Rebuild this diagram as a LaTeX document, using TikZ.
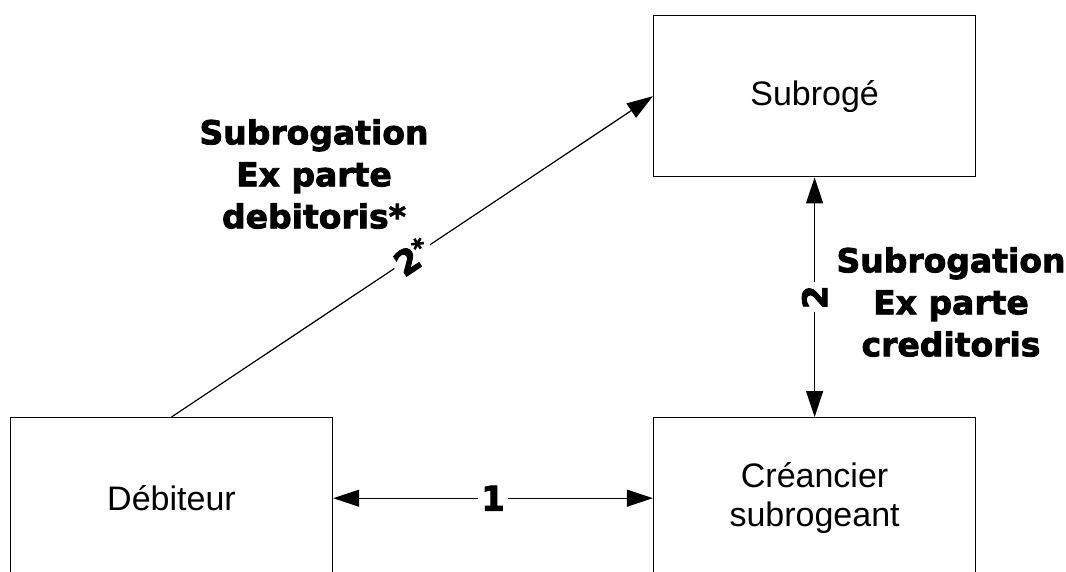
\documentclass[tikz,border=0pt]{standalone}
\usepackage{fontspec}
\setmainfont{Liberation Sans}
\newfontfamily\heavyfont{DejaVu Sans}[BoldFeatures={FakeBold=2.5}]
\usetikzlibrary{arrows.meta}

\tikzset{
  party/.style={draw, line width=1.4pt, minimum width=322pt, minimum height=161pt,
    align=center, inner sep=0pt, font=\fontsize{34}{39}\selectfont},
  link/.style={line width=1.2pt},
  tip/.style={-{Triangle[length=26pt,width=17pt]}},
  both/.style={{Triangle[length=26pt,width=17pt]}-{Triangle[length=26pt,width=17pt]}},
  num/.style={fill=white, inner sep=3pt, font=\heavyfont\bfseries\fontsize{34}{40}\selectfont},
  kind/.style={align=center, inner sep=0pt, font=\heavyfont\bfseries\fontsize{33}{42}\selectfont},
}

\begin{document}
\begin{tikzpicture}[x=1pt, y=-1pt]
  \useasboundingbox (0,0) rectangle (1066,572);
  \clip (0,0) rectangle (1066,572);

  % the three parties
  \node[party] (sub) at (814.6,96.2) {Subrogé};
  \node[party] (deb) at (171.5,498.2) {Débiteur};
  \node[party] (cre) at (814.6,498.2) {Créancier\\subrogeant};

  % relations between them
  \draw[link, both] (deb.east) -- node[num] (n1) {1} (cre.west);
  \draw[link, both] (cre.north) -- node[num, sloped] (n2) {2} (sub.south);
  \draw[link, tip] (deb.north) -- node[num, sloped] (n2s) {2\textsuperscript{*}} (sub.west);

  % kinds of subrogation
  \node[kind] (exdeb) at (314,174) {Subrogation\\Ex parte\\debitoris*};
  \node[kind] (excre) at (951,302) {Subrogation\\Ex parte\\creditoris};
\end{tikzpicture}
\end{document}
